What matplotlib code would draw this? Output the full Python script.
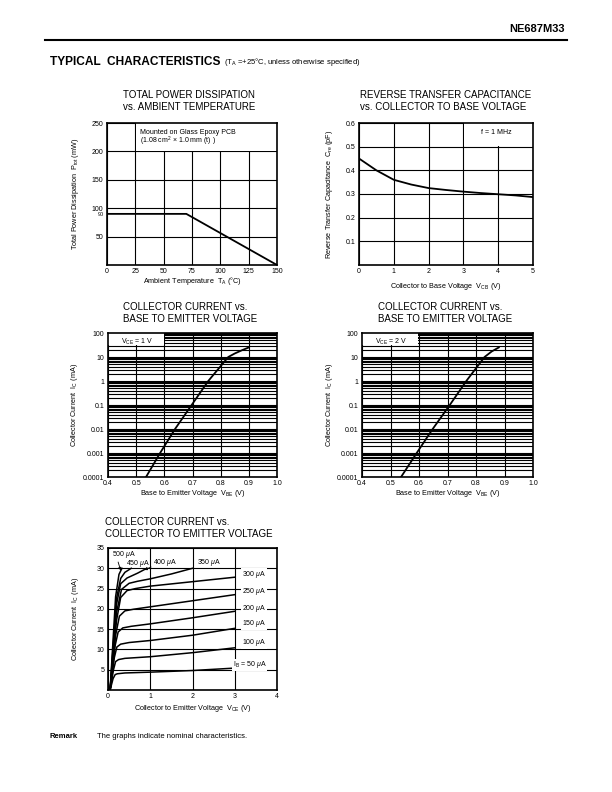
import matplotlib
matplotlib.use("Agg")
import matplotlib.pyplot as plt
from matplotlib.patches import Rectangle
from matplotlib.ticker import FixedLocator, NullFormatter

plt.rcParams["font.family"] = "Liberation Sans"
plt.rcParams["mathtext.fontset"] = "custom"
plt.rcParams["mathtext.rm"] = "Liberation Sans"
plt.rcParams["mathtext.it"] = "Liberation Sans:italic"

W, H = 612, 792

# --- data ---
# total power dissipation vs ambient temperature
ta = [0, 70, 150]
ptot = [90, 90, 0]

# reverse transfer capacitance vs VCB
vcb = [0, 0.25, 0.5, 1, 1.5, 2, 2.5, 3, 3.5, 4, 4.5, 5]
cre = [0.45, 0.425, 0.40, 0.36, 0.34, 0.325, 0.317, 0.31, 0.304, 0.299, 0.294, 0.287]

# collector current vs VBE
vbe_1v = [0.535, 0.585, 0.638, 0.697, 0.756, 0.827, 0.85, 0.875, 0.9]
ic_1v = [1e-4, 1e-3, 1e-2, 1e-1, 1, 10, 14, 19, 25]
vbe_2v = [0.537, 0.592, 0.648, 0.708, 0.766, 0.83, 0.855, 0.88]
ic_2v = [1e-4, 1e-3, 1e-2, 1e-1, 1, 10, 17, 25]
log_ticks = [1e-4, 1e-3, 1e-2, 1e-1, 1, 10, 100]
log_labels = ["0.0001", "0.001", "0.01", "0.1", "1", "10", "100"]

# collector current vs VCE, one curve per base current
vce_50 = [0.05, 0.12, 0.17, 0.22, 0.4, 1.0, 2.0, 3.0]
ic_50 = [0, 2.8, 3.8, 4.0, 4.2, 4.4, 4.8, 5.4]
vce_100 = [0.05, 0.13, 0.18, 0.25, 0.4, 1.0, 2.0, 3.0]
ic_100 = [0, 5.0, 7.0, 7.5, 7.8, 8.2, 9.2, 10.4]
vce_150 = [0.05, 0.15, 0.21, 0.3, 0.5, 1.0, 2.0, 3.0]
ic_150 = [0, 8.0, 10.6, 11.3, 11.7, 12.2, 13.5, 15.2]
vce_200 = [0.05, 0.17, 0.24, 0.35, 0.55, 1.0, 2.0, 3.0]
ic_200 = [0, 11.0, 14.3, 15.3, 15.7, 16.3, 17.8, 19.4]
vce_250 = [0.05, 0.18, 0.27, 0.4, 0.6, 1.0, 2.0, 3.0]
ic_250 = [0, 13.5, 18.2, 19.5, 19.9, 20.5, 22.0, 23.5]
vce_300 = [0.05, 0.2, 0.3, 0.45, 0.65, 1.0, 2.0, 3.0]
ic_300 = [0, 17.0, 22.8, 24.5, 25.0, 25.6, 26.7, 27.8]
vce_350 = [0.05, 0.2, 0.32, 0.5, 0.7, 1.0, 1.5, 2.0]
ic_350 = [0, 19.0, 24.8, 26.3, 26.8, 27.4, 28.6, 30.0]
vce_400 = [0.05, 0.2, 0.3, 0.45, 0.7, 0.92]
ic_400 = [0, 21.0, 26.2, 27.6, 28.8, 30.0]
vce_450 = [0.05, 0.2, 0.3, 0.4, 0.55]
ic_450 = [0, 22.5, 27.5, 29.0, 30.0]
vce_500 = [0.05, 0.18, 0.26, 0.33]
ic_500 = [0, 23.0, 28.5, 30.0]

TICK_FS = 5
LABEL_FS = 5.2
TITLE_FS = 7
LW_CURVE = 1.3
LW_GRID = 0.8


def add_axes(fig, left, right, top, bottom):
    ax = fig.add_axes([left / W, 1 - bottom / H, (right - left) / W, (bottom - top) / H])
    for s in ax.spines.values():
        s.set_linewidth(1.2)
    ax.tick_params(length=0, labelsize=TICK_FS, pad=2.5)
    ax.tick_params(axis="x", pad=2)
    ax.set_axisbelow(True)
    return ax


def title(fig, x, y, text):
    fig.text(x / W, 1 - y / H, text, fontsize=TITLE_FS, ha="left", va="bottom",
             linespacing=1.25)


def mask(ax, x0, y0, x1, y1):
    ax.add_patch(Rectangle((x0, y0), x1 - x0, y1 - y0, facecolor="white",
                           edgecolor="none", zorder=1))


def ylabel(ax, text, xfrac):
    ax.set_ylabel(text, fontsize=LABEL_FS)
    ax.yaxis.set_label_coords(xfrac, 0.5)


fig = plt.figure(figsize=(W / 100, H / 100), dpi=100)

# header
fig.text(565 / W, 1 - 29 / H, "NE687M33", fontsize=8, fontweight="bold", ha="right", va="center")
fig.add_artist(plt.Line2D([45 / W, 567 / W], [1 - 40 / H, 1 - 40 / H], color="black", lw=1.5))
head = fig.text(50 / W, 1 - 62 / H, "TYPICAL  CHARACTERISTICS", fontsize=8.6, fontweight="bold",
                ha="left", va="center")
fig.canvas.draw()
head_right = head.get_window_extent().x1
fig.text((head_right + 3) / W, 1 - 62.5 / H, r"(T$_{\rm A}$ =+25°C, unless otherwise specified)",
         fontsize=5.5, ha="left", va="center")
fig.text(50 / W, 1 - 737 / H, "Remark", fontsize=5.5, fontweight="bold", ha="left", va="center")
fig.text(97 / W, 1 - 737 / H, "The graphs indicate nominal characteristics.",
         fontsize=5.5, ha="left", va="center")

# 1) total power dissipation
ax1 = add_axes(fig, 107, 277, 123, 265)
ax1.plot(ta, ptot, color="black", lw=LW_CURVE, zorder=3)
ax1.set_xlim(0, 150)
ax1.set_ylim(0, 250)
ax1.set_xticks([0, 25, 50, 75, 100, 125, 150])
ax1.set_yticks([50, 100, 150, 200, 250])
ax1.set_yticks([90], minor=True)
ax1.set_yticklabels(["90"], minor=True, fontsize=4)
ax1.tick_params(which="minor", length=0, pad=2.5)
ax1.grid(True, which="major", color="black", lw=LW_GRID)
mask(ax1, 26, 201, 150, 250)
ax1.text(29, 233, "Mounted on Glass Epoxy PCB", fontsize=5, va="center", zorder=4)
ax1.text(29, 217, r"(1.08 cm$^{\rm 2}$ × 1.0 mm (t) )", fontsize=5, va="center", zorder=4)
ax1.set_xlabel(r"Ambient Temperature  T$_{\rm A}$ (°C)", fontsize=LABEL_FS, labelpad=0.5)
ylabel(ax1, r"Total Power Dissipation  P$_{\rm tot}$ (mW)", -0.153)
title(fig, 123, 112, "TOTAL POWER DISSIPATION\nvs. AMBIENT TEMPERATURE")

# 2) reverse transfer capacitance
ax2 = add_axes(fig, 359, 533, 123, 265)
ax2.plot(vcb, cre, color="black", lw=LW_CURVE, zorder=3)
ax2.set_xlim(0, 5)
ax2.set_ylim(0, 0.6)
ax2.set_xticks([0, 1, 2, 3, 4, 5])
ax2.set_yticks([0.1, 0.2, 0.3, 0.4, 0.5, 0.6])
ax2.set_yticklabels(["0.1", "0.2", "0.3", "0.4", "0.5", "0.6"])
ax2.grid(True, color="black", lw=LW_GRID)
mask(ax2, 3.02, 0.502, 5, 0.6)
ax2.text(3.5, 0.56, "f = 1 MHz", fontsize=5, va="center", zorder=4)
ax2.set_xlabel(r"Collector to Base Voltage  V$_{\rm CB}$ (V)", fontsize=LABEL_FS, labelpad=4.5)
ylabel(ax2, r"Reverse Transfer Capacitance  C$_{\rm re}$ (pF)", -0.138)
title(fig, 360, 112, "REVERSE TRANSFER CAPACITANCE\nvs. COLLECTOR TO BASE VOLTAGE")


# 3) and 4) collector current vs VBE
def plot_ic_vbe(ax, vbe, ic, label, ylab_x):
    ax.plot(vbe, ic, color="black", lw=LW_CURVE, zorder=3)
    ax.set_yscale("log")
    ax.set_xlim(0.4, 1.0)
    ax.set_ylim(1e-4, 100)
    ax.set_xticks([0.4, 0.5, 0.6, 0.7, 0.8, 0.9, 1.0])
    ax.set_xticklabels(["0.4", "0.5", "0.6", "0.7", "0.8", "0.9", "1.0"])
    ax.yaxis.set_major_locator(FixedLocator(log_ticks))
    ax.set_yticklabels(log_labels)
    minors = [m * d for d in log_ticks[:-1] for m in range(2, 10)]
    ax.yaxis.set_minor_locator(FixedLocator(minors))
    ax.yaxis.set_minor_formatter(NullFormatter())
    ax.tick_params(which="minor", length=0)
    ax.grid(True, which="both", axis="y", color="black", lw=LW_GRID)
    ax.grid(True, which="major", axis="x", color="black", lw=LW_GRID)
    mask(ax, 0.4, 31, 0.598, 100)
    ax.text(0.445, 44, label, fontsize=5, va="center", zorder=4)
    ax.set_xlabel(r"Base to Emitter Voltage  V$_{\rm BE}$ (V)", fontsize=LABEL_FS, labelpad=1)
    ylabel(ax, r"Collector Current  I$_{\rm C}$ (mA)", ylab_x)


ax3 = add_axes(fig, 108, 277, 333, 477)
plot_ic_vbe(ax3, vbe_1v, ic_1v, r"V$_{\rm CE}$ = 1 V", -0.166)
title(fig, 123, 324, "COLLECTOR CURRENT vs.\nBASE TO EMITTER VOLTAGE")

ax4 = add_axes(fig, 362, 533, 333, 477)
plot_ic_vbe(ax4, vbe_2v, ic_2v, r"V$_{\rm CE}$ = 2 V", -0.158)
title(fig, 378, 324, "COLLECTOR CURRENT vs.\nBASE TO EMITTER VOLTAGE")

# 5) collector current vs VCE
ax5 = add_axes(fig, 108, 277, 548, 690)
curves = [(vce_50, ic_50), (vce_100, ic_100), (vce_150, ic_150), (vce_200, ic_200),
          (vce_250, ic_250), (vce_300, ic_300), (vce_350, ic_350), (vce_400, ic_400),
          (vce_450, ic_450), (vce_500, ic_500)]
for xs, ys in curves:
    ax5.plot(xs, ys, color="black", lw=1.1, zorder=3, solid_joinstyle="round")
ax5.set_xlim(0, 4)
ax5.set_ylim(0, 35)
ax5.set_xticks([0, 1, 2, 3, 4])
ax5.set_yticks([5, 10, 15, 20, 25, 30, 35])
ax5.grid(True, color="black", lw=LW_GRID)

lab_box = dict(facecolor="white", edgecolor="none", pad=0.6)
right_labels = [(r"I$_{\rm B}$ = 50 $\mu$A", 6.2), (r"100 $\mu$A", 11.6), (r"150 $\mu$A", 16.3),
                (r"200 $\mu$A", 20.0), (r"250 $\mu$A", 24.3), (r"300 $\mu$A", 28.4)]
for txt, yv in right_labels:
    ax5.text(3.75, yv, txt, fontsize=5, ha="right", va="center", bbox=lab_box, zorder=4)
ax5.text(0.1, 33.3, r"500 $\mu$A", fontsize=5, ha="left", va="center", bbox=lab_box, zorder=4)
ax5.text(0.42, 31.2, r"450 $\mu$A", fontsize=5, ha="left", va="center", zorder=4)
ax5.text(1.07, 31.4, r"400 $\mu$A", fontsize=5, ha="left", va="center", zorder=4)
ax5.text(2.1, 31.4, r"350 $\mu$A", fontsize=5, ha="left", va="center", zorder=4)
ax5.annotate("", xy=(0.32, 28.8), xytext=(0.22, 32.2),
             arrowprops=dict(arrowstyle="-|>", lw=0.6, color="black", mutation_scale=4), zorder=4)
ax5.annotate("", xy=(0.8, 29.3), xytext=(1.08, 30.6),
             arrowprops=dict(arrowstyle="-|>", lw=0.6, color="black", mutation_scale=4), zorder=4)
ax5.set_xlabel(r"Collector to Emitter Voltage  V$_{\rm CE}$ (V)", fontsize=LABEL_FS, labelpad=2)
ylabel(ax5, r"Collector Current  I$_{\rm C}$ (mA)", -0.162)
title(fig, 105, 539, "COLLECTOR CURRENT vs.\nCOLLECTOR TO EMITTER VOLTAGE")

fig.savefig("out.png", dpi=100)
